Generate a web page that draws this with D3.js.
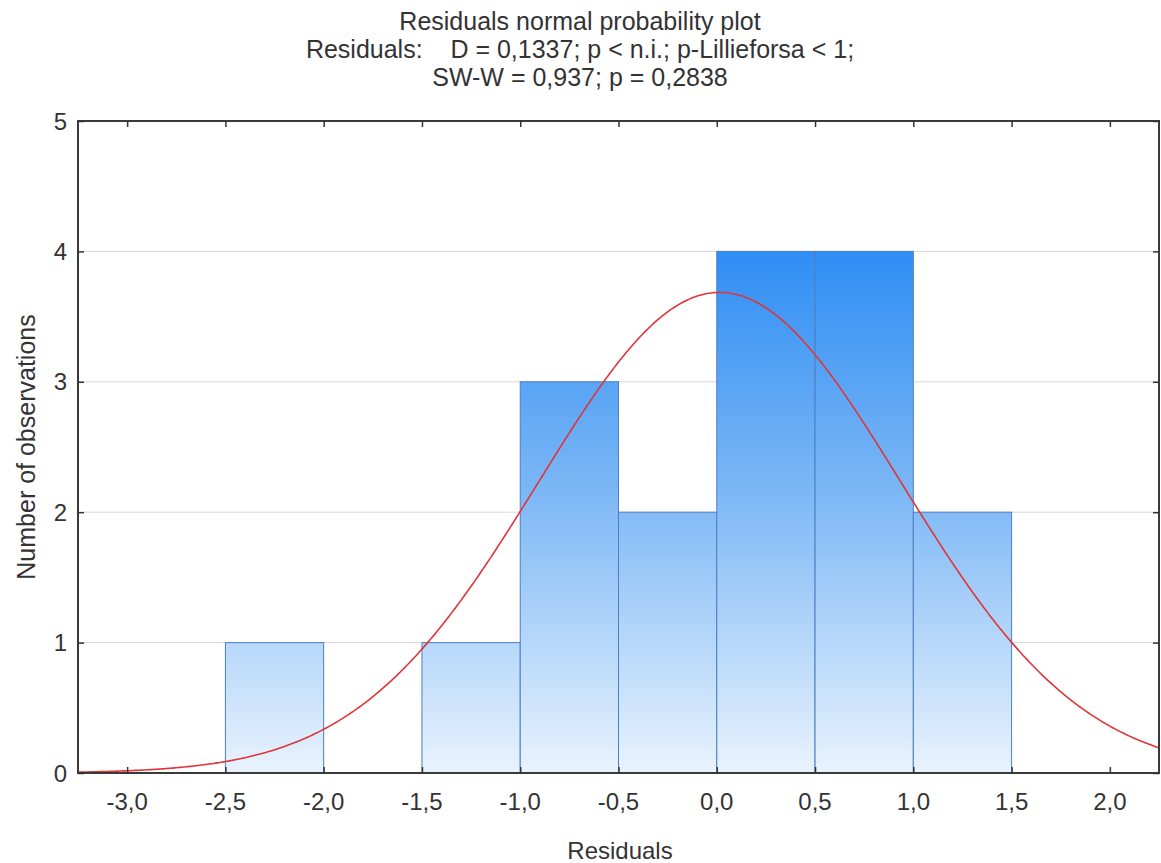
<!DOCTYPE html>
<html>
<head>
<meta charset="utf-8">
<script src="https://cdn.jsdelivr.net/npm/d3@7"></script>
<style>
  html, body { margin: 0; padding: 0; background: #fff; }
  svg { display: block; font-family: "Liberation Sans", Arial, sans-serif; }
</style>
</head>
<body>
<svg id="chart" width="1161" height="863"></svg>
<script>
// Histogram bins of the residuals (lower edge, upper edge) and their counts
const binStart = [-2.5, -2.0, -1.5, -1.0, -0.5, 0.0, 0.5, 1.0];
const binEnd   = [-2.0, -1.5, -1.0, -0.5, 0.0, 0.5, 1.0, 1.5];
const counts   = [1, 0, 1, 3, 2, 4, 4, 2];

// Axis ticks
const xTicks = [-3.0, -2.5, -2.0, -1.5, -1.0, -0.5, 0.0, 0.5, 1.0, 1.5, 2.0];
const yTicks = [0, 1, 2, 3, 4, 5];

// Fitted normal curve parameters
const fitMean = 0.015;
const fitSd = 0.92;
const binWidth = 0.5;

const titleLines = [
  "Residuals normal probability plot",
  "Residuals:    D = 0,1337; p < n.i.; p-Lillieforsa < 1;",
  "SW-W = 0,937; p = 0,2838"
];

const svg = d3.select("#chart");
const plotL = 78, plotR = 1159, plotT = 121, plotB = 773;
const textColor = "#333";

const x = d3.scaleLinear().domain([-3.25, 2.25]).range([plotL, plotR]);
const y = d3.scaleLinear().domain([0, 5]).range([plotB, plotT]);

const fmt = v => d3.format(".1f")(v).replace(".", ",").replace("−", "-");

// gradient for bars, spanning the plot height
const defs = svg.append("defs");
const grad = defs.append("linearGradient")
  .attr("id", "barGrad")
  .attr("gradientUnits", "userSpaceOnUse")
  .attr("x1", 0).attr("x2", 0)
  .attr("y1", y(4)).attr("y2", y(0));
grad.append("stop").attr("offset", "0%").attr("stop-color", "#2f8ef4");
grad.append("stop").attr("offset", "45%").attr("stop-color", "#7ab6f5");
grad.append("stop").attr("offset", "100%").attr("stop-color", "#e9f3fe");

defs.append("clipPath").attr("id", "plotClip")
  .append("rect").attr("x", plotL).attr("y", plotT)
  .attr("width", plotR - plotL).attr("height", plotB - plotT);

// horizontal grid lines
svg.append("g").selectAll("line")
  .data(yTicks.filter(d => d > 0 && d < 5))
  .join("line")
  .attr("x1", plotL).attr("x2", plotR)
  .attr("y1", d => y(d)).attr("y2", d => y(d))
  .attr("stroke", "#d8d8d8").attr("stroke-width", 1);

// bars
const bins = counts.map((c, i) => ({ x0: binStart[i], x1: binEnd[i], n: c }));
svg.append("g").selectAll("rect")
  .data(bins.filter(d => d.n > 0))
  .join("rect")
  .attr("x", d => x(d.x0))
  .attr("width", d => x(d.x1) - x(d.x0))
  .attr("y", d => y(d.n))
  .attr("height", d => y(0) - y(d.n))
  .attr("fill", "url(#barGrad)")
  .attr("stroke", "#4c7fc4")
  .attr("stroke-width", 1);

// fitted normal curve scaled to counts
const total = d3.sum(counts);
const pdf = v => Math.exp(-0.5 * Math.pow((v - fitMean) / fitSd, 2)) / (fitSd * Math.sqrt(2 * Math.PI));
const curvePts = d3.range(-3.25, 2.2501, 0.01).map(v => [v, total * binWidth * pdf(v)]);
svg.append("path")
  .datum(curvePts)
  .attr("clip-path", "url(#plotClip)")
  .attr("fill", "none")
  .attr("stroke", "#e03538")
  .attr("stroke-width", 1.6)
  .attr("d", d3.line().x(d => x(d[0])).y(d => y(d[1])));

// frame
svg.append("rect")
  .attr("x", plotL).attr("y", plotT)
  .attr("width", plotR - plotL).attr("height", plotB - plotT)
  .attr("fill", "none").attr("stroke", "#3a3a3a").attr("stroke-width", 2);

// inner tick marks
const tickLen = 6;
const styleTicks = g => {
  g.select(".domain").remove();
  g.selectAll("line").attr("stroke", "#333").attr("stroke-width", 1.5);
};
svg.append("g").attr("transform", `translate(0,${plotB})`)
  .call(d3.axisBottom(x).tickValues(xTicks).tickSize(-tickLen).tickFormat(""))
  .call(styleTicks);
svg.append("g").attr("transform", `translate(0,${plotT})`)
  .call(d3.axisTop(x).tickValues(xTicks).tickSize(-tickLen).tickFormat(""))
  .call(styleTicks);
svg.append("g").attr("transform", `translate(${plotL},0)`)
  .call(d3.axisLeft(y).tickValues(yTicks).tickSize(-tickLen).tickFormat(""))
  .call(styleTicks);
svg.append("g").attr("transform", `translate(${plotR},0)`)
  .call(d3.axisRight(y).tickValues(yTicks).tickSize(-tickLen).tickFormat(""))
  .call(styleTicks);

// tick labels
svg.append("g").selectAll("text")
  .data(xTicks)
  .join("text")
  .attr("x", d => x(d))
  .attr("y", 810)
  .attr("text-anchor", "middle")
  .attr("font-size", 24)
  .attr("letter-spacing", 0)
  .attr("fill", textColor)
  .text(d => fmt(d));

svg.append("g").selectAll("text")
  .data(yTicks)
  .join("text")
  .attr("x", 67)
  .attr("y", d => y(d) + 8.5)
  .attr("text-anchor", "end")
  .attr("font-size", 24)
  .attr("fill", textColor)
  .text(d => d);

// axis titles
svg.append("text")
  .attr("x", 620).attr("y", 859)
  .attr("text-anchor", "middle")
  .attr("font-size", 24).attr("fill", textColor)
  .text("Residuals");

svg.append("text")
  .attr("transform", `translate(35,${(plotT + plotB) / 2}) rotate(-90)`)
  .attr("text-anchor", "middle")
  .attr("font-size", 25).attr("fill", textColor)
  .text("Number of observations");

// title block
svg.append("g").selectAll("text")
  .data(titleLines)
  .join("text")
  .attr("x", 580)
  .attr("y", (d, i) => 30 + i * 28)
  .attr("text-anchor", "middle")
  .attr("font-size", 25)
  .attr("fill", textColor)
  .style("white-space", "pre")
  .text(d => d);
</script>
</body>
</html>
